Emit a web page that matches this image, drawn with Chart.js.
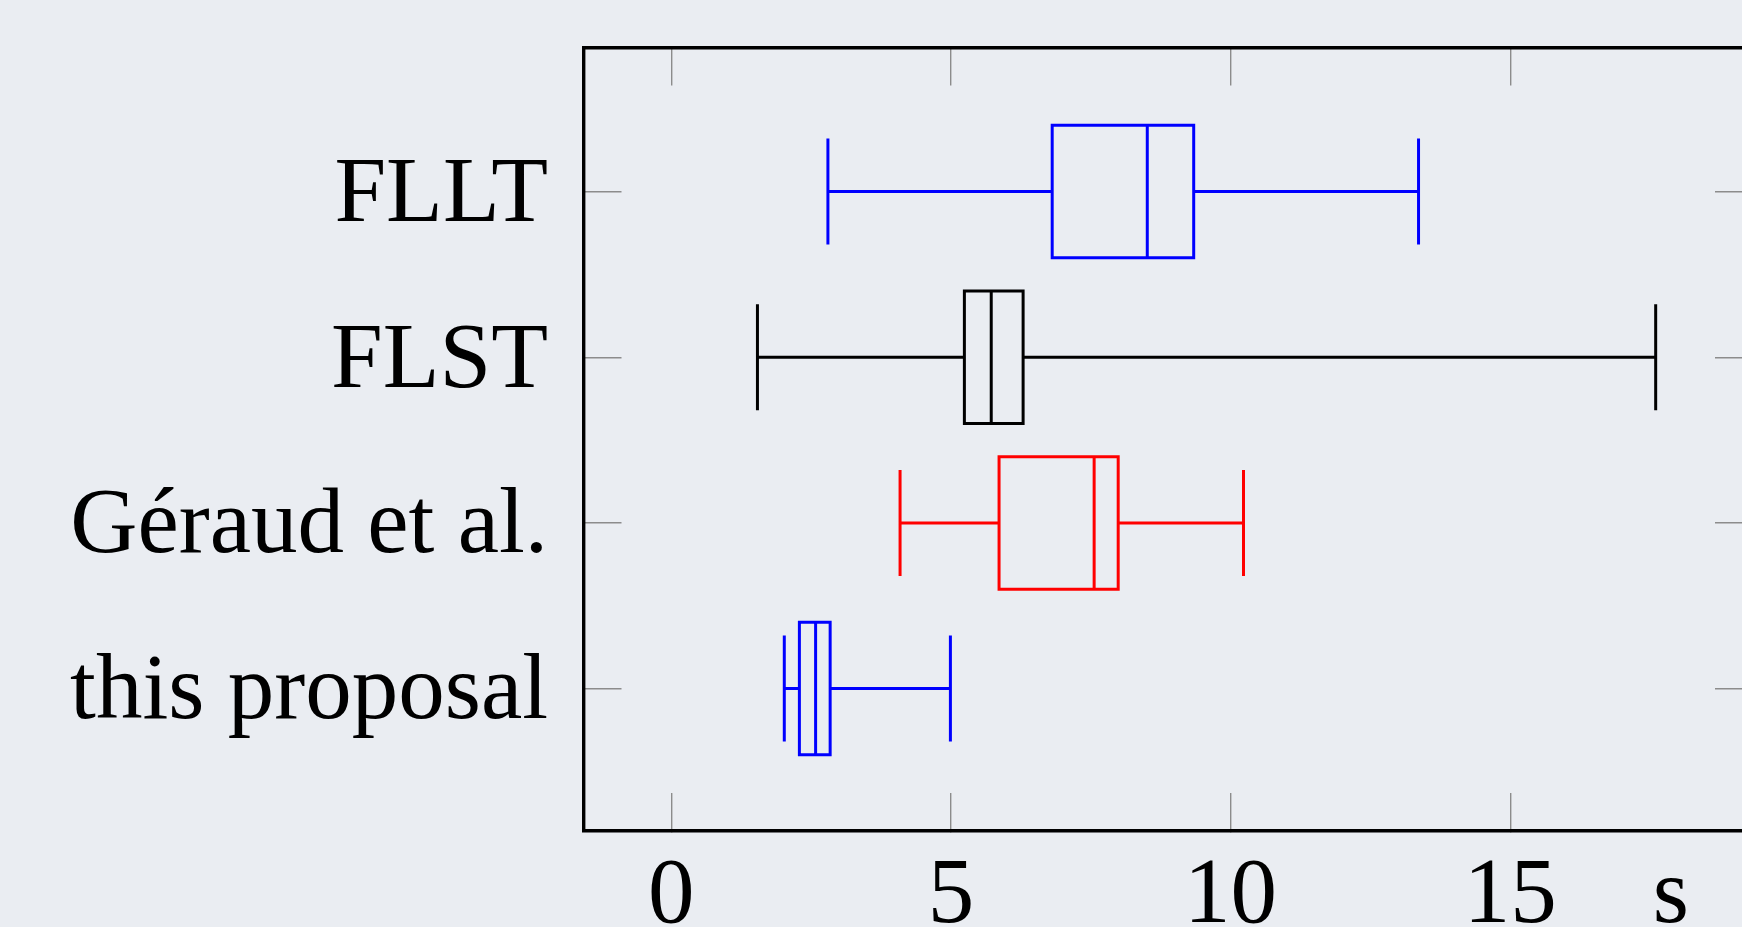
<!DOCTYPE html>
<html>
<head>
<meta charset="utf-8">
<script src="https://cdn.jsdelivr.net/npm/chart.js@4"></script>
<style>
  html, body { margin: 0; padding: 0; background: rgb(234, 237, 242); overflow: hidden; }
  #wrap { width: 1770px; height: 927px; }
</style>
</head>
<body>
<div id="wrap"><canvas id="chart-box" width="1770" height="927"></canvas></div>
<script>
// ============================================================
// Data: run times (s), one box per method
// ============================================================
const categories = ["FLLT", "FLST", "Géraud et al.", "this proposal"];
const positions  = [4, 3, 2, 1];
const mins       = [2.80, 1.54, 4.09, 2.02];
const q1s        = [6.81, 5.24, 5.86, 2.29];
const medians    = [8.51, 5.72, 7.56, 2.58];
const q3s        = [9.34, 6.29, 7.99, 2.84];
const maxs       = [13.36, 17.60, 10.23, 4.99];
const boxColors  = ["#0000ff", "#000000", "#ff0000", "#0000ff"];

const xTickValues = [0, 5, 10, 15];
const unitLabel = "s";
const unitLabelAt = 17.87;

// ============================================================
// Layout / style
// ============================================================
const W = 1770, H = 927;
const AREA = { left: 583.5, top: 47.5, right: 1753, bottom: 831 };
const X_MIN = -1.57, X_MAX = 19.34;
const Y_MIN = 0.14, Y_MAX = 4.87;
const BOX_HALF = 0.4;
const CAP_HALF = 0.32;
const TICK_LEN = 38;
const tickGray = "#8c8c8c";
const serif = { family: "'Liberation Serif', 'Times New Roman', serif", size: 93 };

// one line path per box: caps, whiskers, box outline, median (null = pen up)
function boxPath(i) {
  const y = positions[i];
  const gap = { x: null, y: null };
  return [
    { x: mins[i], y: y - CAP_HALF }, { x: mins[i], y: y + CAP_HALF }, gap,
    { x: mins[i], y: y }, { x: q1s[i], y: y },
    { x: q1s[i], y: y - BOX_HALF }, { x: q3s[i], y: y - BOX_HALF },
    { x: q3s[i], y: y + BOX_HALF }, { x: q1s[i], y: y + BOX_HALF },
    { x: q1s[i], y: y }, gap,
    { x: q3s[i], y: y }, { x: maxs[i], y: y }, gap,
    { x: maxs[i], y: y - CAP_HALF }, { x: maxs[i], y: y + CAP_HALF }, gap,
    { x: medians[i], y: y - BOX_HALF }, { x: medians[i], y: y + BOX_HALF }
  ];
}

const datasets = categories.map((name, i) => ({
  label: name,
  data: boxPath(i),
  showLine: true,
  spanGaps: false,
  borderColor: boxColors[i],
  backgroundColor: boxColors[i],
  borderWidth: 3,
  borderJoinStyle: "miter",
  pointRadius: 0,
  pointHoverRadius: 0
}));

const gridOpts = {
  drawOnChartArea: false,
  drawTicks: true,
  tickLength: -TICK_LEN,
  color: tickGray,
  lineWidth: 1.4
};
const borderOpts = { display: true, color: "#000000", width: 3.4 };

// pin the plot frame: fixed axis sizes, no label overhang padding
function pin(size) {
  return s => {
    if (s.isHorizontal()) s.height = size; else s.width = size;
    s.paddingTop = s.paddingBottom = s.paddingLeft = s.paddingRight = 0;
  };
}

new Chart(document.getElementById("chart-box"), {
  type: "scatter",
  data: { datasets },
  options: {
    responsive: false,
    animation: false,
    events: [],
    layout: { padding: 0 },
    plugins: { legend: { display: false }, tooltip: { enabled: false } },
    scales: {
      x: {
        type: "linear", position: "bottom", min: X_MIN, max: X_MAX,
        afterBuildTicks: s => { s.ticks = xTickValues.concat([unitLabelAt]).map(v => ({ value: v })); },
        ticks: {
          font: serif, color: "#000", padding: 49, maxRotation: 0, autoSkip: false,
          callback: v => (v === unitLabelAt ? unitLabel : String(v))
        },
        grid: { ...gridOpts, color: c => (c.tick && c.tick.value === unitLabelAt ? "rgba(0,0,0,0)" : tickGray) },
        border: borderOpts,
        afterFit: pin(H - AREA.bottom)
      },
      x2: {
        type: "linear", position: "top", min: X_MIN, max: X_MAX,
        afterBuildTicks: s => { s.ticks = xTickValues.map(v => ({ value: v })); },
        ticks: { display: false },
        grid: gridOpts,
        border: borderOpts,
        afterFit: pin(AREA.top)
      },
      y: {
        type: "linear", position: "left", min: Y_MIN, max: Y_MAX,
        afterBuildTicks: s => { s.ticks = positions.map(v => ({ value: v })); },
        ticks: {
          font: serif, color: "#000", padding: 35.5 + TICK_LEN, autoSkip: false, labelOffset: 5,
          callback: v => categories[positions.indexOf(v)]
        },
        grid: gridOpts,
        border: borderOpts,
        afterFit: pin(AREA.left)
      },
      y2: {
        type: "linear", position: "right", min: Y_MIN, max: Y_MAX,
        afterBuildTicks: s => { s.ticks = positions.map(v => ({ value: v })); },
        ticks: { display: false },
        grid: gridOpts,
        border: borderOpts,
        afterFit: pin(W - AREA.right)
      }
    }
  }
});
</script>
</body>
</html>
